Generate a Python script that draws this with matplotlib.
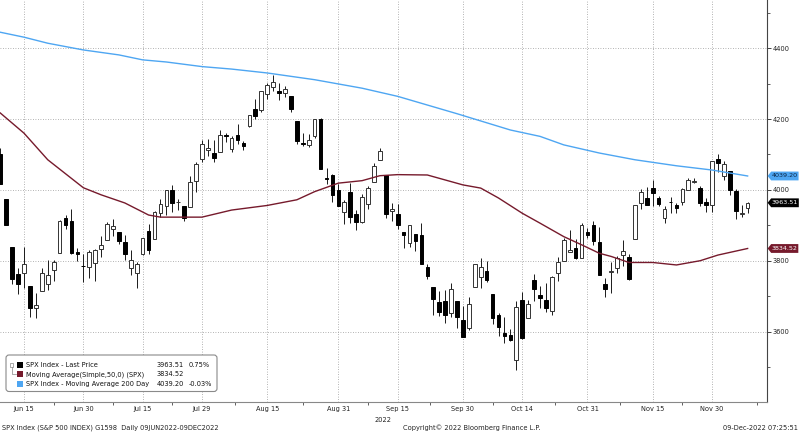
import numpy as np
import pandas as pd
import matplotlib
matplotlib.use("Agg")
import matplotlib.pyplot as plt
import matplotlib.transforms as mtransforms
from matplotlib.patches import FancyBboxPatch, Rectangle
from matplotlib.path import Path
from matplotlib.ticker import FixedLocator, MultipleLocator

# ===================== data =====================
holidays = ["2022-06-20", "2022-07-04", "2022-09-05", "2022-11-24"]
dates = pd.bdate_range("2022-06-09", "2022-12-08", freq="C", holidays=holidays)

opens = [4101.65, 3974.39, 3838.15, 3763.52, 3764.05, 3728.18, 3665.90, 3715.31, 3733.89, 3774.71,
         3821.75, 3920.76, 3913.00, 3825.09, 3785.99, 3781.00, 3792.61, 3831.98, 3858.85, 3888.26,
         3880.94, 3851.95, 3779.67, 3763.99, 3818.00, 3883.79, 3860.73, 3935.32, 3955.47, 3998.43,
         3965.72, 3953.22, 3951.43, 4026.13, 4087.33, 4112.38, 4104.21, 4107.96, 4154.85, 4115.87,
         4155.93, 4133.11, 4181.02, 4227.40, 4225.02, 4269.37, 4290.46, 4280.40, 4273.13, 4266.31,
         4195.08, 4133.09, 4126.55, 4153.26, 4198.74, 4034.58, 4041.25, 4000.67, 3936.73, 3994.66,
         3930.89, 3909.43, 3959.94, 4022.94, 4083.67, 4041.88, 3940.73, 3932.41, 3880.95, 3849.91,
         3875.23, 3871.40, 3782.36, 3727.14, 3682.72, 3686.44, 3651.94, 3687.01, 3633.48, 3609.78,
         3726.46, 3753.25, 3771.97, 3706.74, 3647.51, 3595.86, 3590.83, 3520.37, 3690.41, 3638.65,
         3746.26, 3703.11, 3689.05, 3657.10, 3764.10, 3799.44, 3825.97, 3834.69, 3808.26, 3881.85,
         3901.79, 3852.90, 3733.25, 3766.98, 3780.71, 3817.02, 3810.94, 3859.89, 3963.72, 3977.97,
         4006.41, 3976.82, 3919.26, 3966.39, 3956.23, 3965.51, 4000.30, 4023.34, 4005.36, 3964.36,
         3957.18, 4087.14, 4040.17, 4052.02, 3996.63, 3933.28, 3947.79]
highs = [4119.10, 3974.39, 3838.15, 3778.18, 3837.48, 3728.18, 3707.71, 3779.65, 3801.79, 3802.58,
         3913.65, 3927.72, 3945.86, 3836.50, 3818.99, 3829.82, 3832.19, 3870.91, 3910.63, 3918.50,
         3880.94, 3873.41, 3829.44, 3796.41, 3863.62, 3902.44, 3939.81, 3974.13, 3999.29, 4012.44,
         3975.30, 3953.22, 4039.56, 4078.95, 4140.15, 4144.95, 4140.47, 4167.66, 4161.29, 4151.58,
         4186.62, 4137.30, 4211.03, 4257.91, 4280.47, 4301.79, 4325.28, 4302.18, 4292.53, 4266.31,
         4195.08, 4159.77, 4156.56, 4200.54, 4203.04, 4062.99, 4044.98, 4015.37, 3970.23, 4018.43,
         3942.55, 3987.89, 4010.50, 4076.81, 4119.28, 4041.88, 3961.94, 3959.14, 3880.95, 3900.45,
         3876.01, 3907.07, 3790.68, 3727.14, 3715.67, 3717.53, 3736.74, 3687.01, 3671.44, 3698.35,
         3791.92, 3806.91, 3797.93, 3706.74, 3652.17, 3640.66, 3608.34, 3685.41, 3712.00, 3689.73,
         3762.79, 3728.58, 3736.00, 3757.89, 3810.74, 3862.85, 3886.15, 3859.95, 3905.42, 3893.73,
         3911.79, 3894.44, 3750.59, 3796.34, 3813.95, 3859.40, 3818.20, 3958.33, 4001.48, 4008.97,
         4028.84, 3983.09, 3954.33, 3979.89, 3962.00, 4005.88, 4033.78, 4034.02, 4012.27, 3976.77,
         4080.11, 4100.51, 4080.48, 4052.45, 4001.51, 3957.57, 3966.99]
lows = [4017.17, 3900.16, 3734.30, 3705.68, 3722.30, 3639.77, 3636.87, 3715.31, 3717.69, 3743.52,
        3821.75, 3889.66, 3820.14, 3799.02, 3738.67, 3752.10, 3742.06, 3809.37, 3858.85, 3869.34,
        3847.22, 3802.36, 3759.07, 3721.56, 3817.18, 3818.63, 3860.73, 3922.03, 3927.64, 3938.85,
        3943.46, 3910.74, 3951.43, 3992.97, 4079.22, 4096.02, 4079.81, 4107.96, 4135.42, 4107.31,
        4128.97, 4112.09, 4177.26, 4201.41, 4219.78, 4256.90, 4277.77, 4253.08, 4261.98, 4218.70,
        4129.86, 4124.03, 4119.97, 4147.59, 4057.66, 4017.42, 3965.21, 3954.53, 3903.65, 3906.21,
        3886.75, 3906.03, 3944.81, 4022.94, 4083.67, 3921.42, 3912.44, 3888.28, 3837.08, 3838.50,
        3827.54, 3789.49, 3749.45, 3647.47, 3644.76, 3623.29, 3640.61, 3610.40, 3584.13, 3604.93,
        3726.46, 3722.66, 3739.22, 3620.73, 3588.10, 3568.45, 3573.86, 3491.58, 3579.68, 3638.65,
        3686.53, 3666.51, 3656.44, 3647.42, 3741.65, 3799.44, 3824.07, 3803.79, 3808.26, 3863.18,
        3843.80, 3758.68, 3698.15, 3708.84, 3764.70, 3786.28, 3744.22, 3859.89, 3944.82, 3956.40,
        3953.17, 3954.34, 3906.54, 3935.98, 3933.34, 3956.88, 3998.66, 4020.76, 3955.77, 3937.65,
        3938.58, 4050.87, 4026.63, 3984.49, 3918.39, 3922.68, 3935.83]
closes = [4017.82, 3900.86, 3749.63, 3735.48, 3789.99, 3666.77, 3674.84, 3764.79, 3759.89, 3795.73,
          3911.74, 3900.11, 3821.55, 3818.83, 3785.38, 3825.33, 3831.39, 3845.08, 3902.62, 3899.38,
          3854.43, 3818.80, 3801.78, 3790.38, 3863.16, 3830.85, 3936.69, 3959.90, 3998.95, 3961.63,
          3966.84, 3921.05, 4023.61, 4072.43, 4130.29, 4118.63, 4091.19, 4155.17, 4151.94, 4145.19,
          4140.06, 4122.47, 4210.24, 4207.27, 4280.15, 4297.14, 4305.20, 4274.04, 4283.74, 4228.48,
          4137.99, 4128.73, 4140.77, 4199.12, 4057.66, 4030.61, 3986.16, 3955.00, 3966.85, 3924.26,
          3908.19, 3979.87, 4006.18, 4067.36, 4110.41, 3932.69, 3946.01, 3901.35, 3873.33, 3899.89,
          3855.93, 3789.93, 3757.99, 3693.23, 3655.04, 3647.29, 3719.04, 3640.47, 3585.62, 3678.43,
          3790.93, 3783.28, 3744.52, 3639.66, 3612.39, 3588.84, 3577.03, 3669.91, 3583.07, 3677.95,
          3719.98, 3695.16, 3665.78, 3752.75, 3797.34, 3859.11, 3830.60, 3807.30, 3901.06, 3871.98,
          3856.10, 3759.69, 3719.89, 3770.55, 3806.80, 3828.11, 3748.57, 3956.37, 3992.93, 3957.25,
          3991.73, 3958.79, 3946.56, 3965.34, 3949.94, 4003.58, 4027.26, 4026.12, 3963.94, 3957.63,
          4080.11, 4076.57, 4071.70, 3998.84, 3941.26, 3933.92, 3963.51]

# moving averages
ma50_dates = ["2022-06-09", "2022-06-15", "2022-06-22", "2022-06-30", "2022-07-06", "2022-07-12",
              "2022-07-18", "2022-07-20", "2022-07-29", "2022-08-05", "2022-08-15", "2022-08-22",
              "2022-08-25", "2022-08-31", "2022-09-07", "2022-09-12", "2022-09-15", "2022-09-22",
              "2022-09-30", "2022-10-05", "2022-10-10", "2022-10-14", "2022-10-19", "2022-10-25",
              "2022-10-28", "2022-11-02", "2022-11-04", "2022-11-09", "2022-11-15", "2022-11-21",
              "2022-11-28", "2022-12-01", "2022-12-08"]
ma50_vals = [4217, 4160, 4085, 4006, 3986, 3963, 3929, 3923, 3923, 3943, 3956, 3972, 3995, 4019,
             4026, 4040, 4043, 4042, 4014, 4005, 3977, 3934, 3906, 3868, 3845, 3821, 3812, 3795,
             3795, 3788, 3800, 3816, 3834.52]
ma200_dates = ["2022-06-09", "2022-06-15", "2022-06-22", "2022-06-30", "2022-07-11", "2022-07-15",
               "2022-07-21", "2022-07-29", "2022-08-05", "2022-08-15", "2022-08-25", "2022-09-07",
               "2022-09-15", "2022-09-29", "2022-10-12", "2022-10-19", "2022-10-25", "2022-11-02",
               "2022-11-10", "2022-11-21", "2022-11-30", "2022-12-08"]
ma200_vals = [4445, 4431, 4414, 4395, 4381, 4367, 4361, 4348, 4341, 4330, 4311, 4287, 4264, 4215,
              4169, 4151, 4127, 4104, 4085, 4068, 4056, 4039.20]

tick_dates = ["2022-06-15", "2022-06-30", "2022-07-15", "2022-07-29", "2022-08-15", "2022-08-31",
              "2022-09-15", "2022-09-30", "2022-10-14", "2022-10-31", "2022-11-15", "2022-11-30"]
tick_labels = ["Jun 15", "Jun 30", "Jul 15", "Jul 29", "Aug 15", "Aug 31",
               "Sep 15", "Sep 30", "Oct 14", "Oct 31", "Nov 15", "Nov 30"]

legend_names = ["SPX Index - Last Price", "Moving Average(Simple,50,0) (SPX)",
                "SPX Index - Moving Average 200 Day"]
legend_values = ["3963.51", "3834.52", "4039.20"]
legend_changes = ["0.75%", "", "-0.03%"]

# ===================== style =====================
BLUE = "#4ea6f2"
MAROON = "#761a2c"
GRID = "#9a9a9a"
FS = 4.8

pos = {d: i for i, d in enumerate(dates)}
x = np.arange(len(dates))
o, h, l, c = (np.array(v) for v in (opens, highs, lows, closes))
up = c >= o

fig = plt.figure(figsize=(8, 4.33), dpi=100)
ax = fig.add_axes([0, 0.0723, 0.959, 0.9277])

# candles
ax.vlines(x, l, h, color="#1a1a1a", lw=0.7, zorder=2)
ax.bar(x[up], c[up] - o[up], bottom=o[up], width=0.62, facecolor="white",
       edgecolor="#333333", lw=0.7, zorder=3)
ax.bar(x[~up], o[~up] - c[~up], bottom=c[~up], width=0.62, facecolor="black",
       edgecolor="black", lw=0.7, zorder=3)

# moving averages
ax.plot([pos[pd.Timestamp(d)] for d in ma200_dates], ma200_vals, color=BLUE, lw=1.0, zorder=4)
ax.plot([pos[pd.Timestamp(d)] for d in ma50_dates], ma50_vals, color=MAROON, lw=1.0, zorder=4)

ax.set_xlim(-0.05, 129.3)
ax.set_ylim(3402, 4536)

# x axis
major_x = [pos[pd.Timestamp(d)] for d in tick_dates]
ax.xaxis.set_major_locator(FixedLocator(major_x))
ax.set_xticklabels(tick_labels)
minor_x = [(a + b) / 2 for a, b in zip(major_x[:-1], major_x[1:])] + [major_x[-1] + 7.5]
ax.xaxis.set_minor_locator(FixedLocator(minor_x))
ax.tick_params(axis="x", which="major", length=0, pad=3, labelsize=FS, colors="#222222")
ax.tick_params(axis="x", which="minor", length=2, width=0.6, color="#444444")

# y axis on the right
ax.yaxis.tick_right()
ax.yaxis.set_major_locator(MultipleLocator(200))
ax.yaxis.set_minor_locator(MultipleLocator(100))
ax.tick_params(axis="y", which="major", length=3, width=0.6, pad=1, labelsize=FS,
               colors="#222222")
ax.tick_params(axis="y", which="minor", length=2, width=0.6, color="#444444")

ax.grid(True, which="major", ls=(0, (1, 2)), color=GRID, lw=0.6)
ax.set_axisbelow(True)
for s in ("top", "left"):
    ax.spines[s].set_visible(False)
ax.spines["right"].set_color("#444444")
ax.spines["right"].set_linewidth(0.8)
ax.spines["bottom"].set_color("#888888")
ax.spines["bottom"].set_linestyle((0, (1, 1)))
ax.spines["bottom"].set_linewidth(0.8)


# value tags on the right
def tag_box(x0, y0, width, height, mutation_size):
    padx = mutation_size * 0.1
    pady = mutation_size * 0.3
    x0, y0 = x0 - padx, y0 - pady
    x1, y1 = x0 + width + 2 * padx, y0 + height + 2 * pady
    tip = (y1 - y0) * 0.4
    verts = [(x0, y0), (x1, y0), (x1, y1), (x0, y1), (x0 - tip, (y0 + y1) / 2), (x0, y0)]
    return Path(verts, closed=True)


trans = mtransforms.blended_transform_factory(ax.transAxes, ax.transData)
tags = [(float(legend_values[2]), BLUE, "#0b2545"),
        (float(legend_values[0]), "black", "white"),
        (float(legend_values[1]), MAROON, "white")]
for val, fc, tc in tags:
    ax.text(1.006, val, f"{val:.2f}", transform=trans, ha="left", va="center", fontsize=4.6,
            color=tc, bbox=dict(boxstyle=tag_box, fc=fc, ec="none"), clip_on=False, zorder=10)

# legend box (pixel coordinates)
W, H = 800, 433
ident = mtransforms.IdentityTransform()
fig.add_artist(FancyBboxPatch((6, H - 391.5), 211, 36.5, boxstyle="round,pad=0,rounding_size=3",
                              transform=ident, fc="white", ec="#8a8a8a", lw=0.8))
row_y = [365, 374.3, 383.6]
icon_colors = ["black", MAROON, BLUE]
for yy, name, val, chg, col in zip(row_y, legend_names, legend_values, legend_changes, icon_colors):
    fig.add_artist(Rectangle((17, H - yy - 3), 6, 6, transform=ident, fc=col, ec="none"))
    fig.text(26 / W, (H - yy) / H, name, fontsize=FS, va="center", ha="left", color="#111111")
    fig.text(157 / W, (H - yy) / H, val, fontsize=FS, va="center", ha="left", color="#111111")
    if chg:
        fig.text(189 / W, (H - yy) / H, chg, fontsize=FS, va="center", ha="left", color="#111111")
# small candle glyph with connector
fig.add_artist(Rectangle((10, H - 367), 3, 4, transform=ident, fc="white", ec="#888888", lw=0.5))
fig.add_artist(plt.Line2D([11.5, 11.5, 16], [H - 367, H - 374.3, H - 374.3], transform=ident,
                          color="#888888", lw=0.5))

# bottom texts
fig.text(383.5 / W, (H - 419.5) / H, "2022", fontsize=FS, ha="center", va="center", color="#222222")
fig.text(2 / W, (H - 428) / H, "SPX Index (S&P 500 INDEX) G1598  Daily 09JUN2022-09DEC2022",
         fontsize=FS, ha="left", va="center", color="#222222")
fig.text(403 / W, (H - 428) / H, "Copyright\u00a9 2022 Bloomberg Finance L.P.",
         fontsize=FS, ha="left", va="center", color="#222222")
fig.text(798 / W, (H - 428) / H, "09-Dec-2022 07:25:51",
         fontsize=FS, ha="right", va="center", color="#222222")

fig.savefig("out.png", dpi=100)
